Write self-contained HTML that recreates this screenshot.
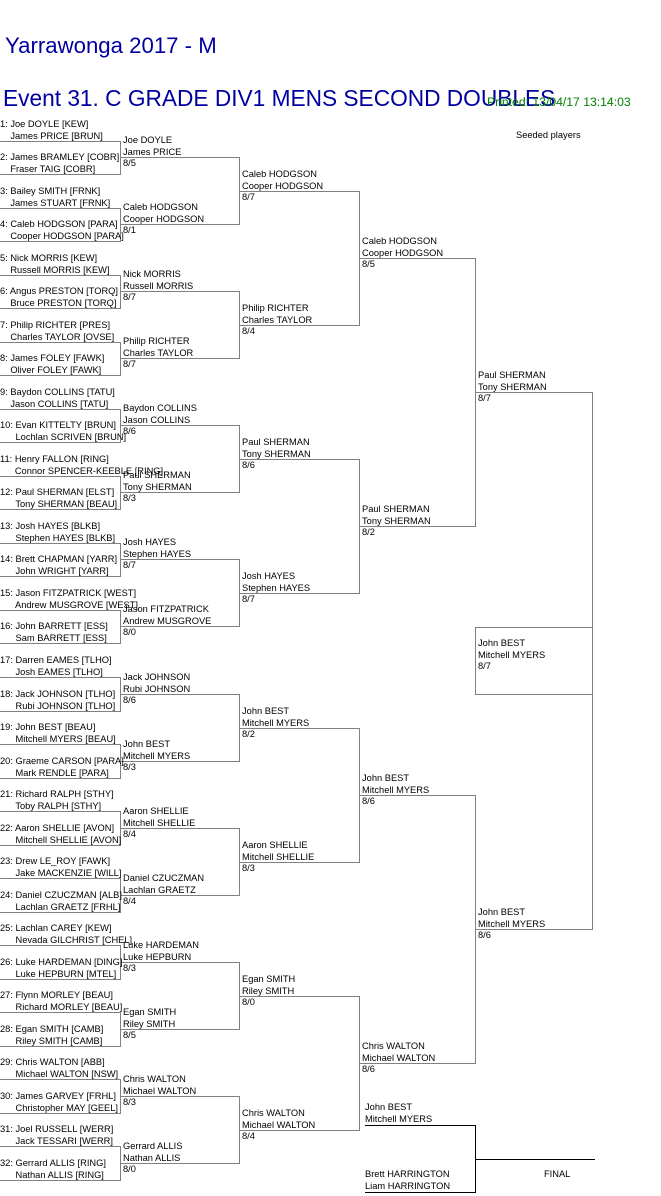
<!DOCTYPE html>
<html>
<head>
<meta charset="utf-8">
<style>
html,body{margin:0;padding:0;background:#fff}
#c{position:relative;width:661px;height:1196px;overflow:hidden;background:#fff;font-family:"Liberation Sans",Arial,sans-serif}
.t{position:absolute;font-size:9.3px;line-height:11.5px;white-space:nowrap;color:#000}
.h{visibility:hidden}
.ti{position:absolute;white-space:nowrap;color:#0000a0;line-height:1}
svg{position:absolute;left:0;top:0}
</style>
</head>
<body>
<div id="c">
<svg width="661" height="1196" viewBox="0 0 661 1196">
<path fill="none" stroke="#808080" stroke-width="1" shape-rendering="crispEdges" d="
M0 141.5H120.5V174.5H0
M0 208.5H120.5V241.5H0
M0 275.5H120.5V308.5H0
M0 342.5H120.5V375.5H0
M0 409.5H120.5V442.5H0
M0 476.5H120.5V509.5H0
M0 543.5H120.5V576.5H0
M0 610.5H120.5V643.5H0
M0 677.5H120.5V711.5H0
M0 744.5H120.5V778.5H0
M0 811.5H120.5V845.5H0
M0 878.5H120.5V912.5H0
M0 945.5H120.5V979.5H0
M0 1012.5H120.5V1046.5H0
M0 1079.5H120.5V1113.5H0
M0 1146.5H120.5V1180.5H0
M120 157.5H239.5V224.5H120
M120 291.5H239.5V358.5H120
M120 425.5H239.5V492.5H120
M120 559.5H239.5V626.5H120
M120 694.5H239.5V761.5H120
M120 828.5H239.5V895.5H120
M120 962.5H239.5V1029.5H120
M120 1096.5H239.5V1163.5H120
M239 191.5H359.5V325.5H239
M239 459.5H359.5V593.5H239
M239 728.5H359.5V862.5H239
M239 996.5H359.5V1130.5H239
M359 258.5H475.5V526.5H359
M359 795.5H475.5V1063.5H359
M475 392.5H592.5V929.5H475
M475.5 627.5H592.5V694.5H475.5Z
"/>
<path fill="none" stroke="#000" stroke-width="1" shape-rendering="crispEdges" d="M365 1125.5H475.5V1192.5H365 M475.5 1159.5H595"/>
</svg>

<div class="ti" style="left:5px;top:35.4px;font-size:22.2px">Yarrawonga 2017 - M</div>
<div class="ti" style="left:3px;top:86.9px;font-size:22.7px">Event 31. C GRADE DIV1 MENS SECOND DOUBLES</div>
<div style="position:absolute;left:487px;top:95.7px;font-size:12.2px;line-height:1;color:#008000;white-space:nowrap">Printed: 13/04/17 13:14:03</div>
<div class="t" style="left:516px;top:130px">Seeded players</div>

<!-- Round 1 -->
<div class="t" style="left:0;top:119px">1: Joe DOYLE [KEW]<br><span class="h">1: </span>James PRICE [BRUN]</div>
<div class="t" style="left:0;top:152px">2: James BRAMLEY [COBR]<br><span class="h">2: </span>Fraser TAIG [COBR]</div>
<div class="t" style="left:0;top:186px">3: Bailey SMITH [FRNK]<br><span class="h">3: </span>James STUART [FRNK]</div>
<div class="t" style="left:0;top:219px">4: Caleb HODGSON [PARA]<br><span class="h">4: </span>Cooper HODGSON [PARA]</div>
<div class="t" style="left:0;top:253px">5: Nick MORRIS [KEW]<br><span class="h">5: </span>Russell MORRIS [KEW]</div>
<div class="t" style="left:0;top:286px">6: Angus PRESTON [TORQ]<br><span class="h">6: </span>Bruce PRESTON [TORQ]</div>
<div class="t" style="left:0;top:320px">7: Philip RICHTER [PRES]<br><span class="h">7: </span>Charles TAYLOR [OVSE]</div>
<div class="t" style="left:0;top:353px">8: James FOLEY [FAWK]<br><span class="h">8: </span>Oliver FOLEY [FAWK]</div>
<div class="t" style="left:0;top:387px">9: Baydon COLLINS [TATU]<br><span class="h">9: </span>Jason COLLINS [TATU]</div>
<div class="t" style="left:0;top:420px">10: Evan KITTELTY [BRUN]<br><span class="h">10: </span>Lochlan SCRIVEN [BRUN]</div>
<div class="t" style="left:0;top:454px">11: Henry FALLON [RING]<br><span class="h">11: </span>Connor SPENCER-KEEBLE [RING]</div>
<div class="t" style="left:0;top:487px">12: Paul SHERMAN [ELST]<br><span class="h">12: </span>Tony SHERMAN [BEAU]</div>
<div class="t" style="left:0;top:521px">13: Josh HAYES [BLKB]<br><span class="h">13: </span>Stephen HAYES [BLKB]</div>
<div class="t" style="left:0;top:554px">14: Brett CHAPMAN [YARR]<br><span class="h">14: </span>John WRIGHT [YARR]</div>
<div class="t" style="left:0;top:588px">15: Jason FITZPATRICK [WEST]<br><span class="h">15: </span>Andrew MUSGROVE [WEST]</div>
<div class="t" style="left:0;top:621px">16: John BARRETT [ESS]<br><span class="h">16: </span>Sam BARRETT [ESS]</div>
<div class="t" style="left:0;top:655px">17: Darren EAMES [TLHO]<br><span class="h">17: </span>Josh EAMES [TLHO]</div>
<div class="t" style="left:0;top:689px">18: Jack JOHNSON [TLHO]<br><span class="h">18: </span>Rubi JOHNSON [TLHO]</div>
<div class="t" style="left:0;top:722px">19: John BEST [BEAU]<br><span class="h">19: </span>Mitchell MYERS [BEAU]</div>
<div class="t" style="left:0;top:756px">20: Graeme CARSON [PARA]<br><span class="h">20: </span>Mark RENDLE [PARA]</div>
<div class="t" style="left:0;top:789px">21: Richard RALPH [STHY]<br><span class="h">21: </span>Toby RALPH [STHY]</div>
<div class="t" style="left:0;top:823px">22: Aaron SHELLIE [AVON]<br><span class="h">22: </span>Mitchell SHELLIE [AVON]</div>
<div class="t" style="left:0;top:856px">23: Drew LE_ROY [FAWK]<br><span class="h">23: </span>Jake MACKENZIE [WILL]</div>
<div class="t" style="left:0;top:890px">24: Daniel CZUCZMAN [ALB]<br><span class="h">24: </span>Lachlan GRAETZ [FRHL]</div>
<div class="t" style="left:0;top:923px">25: Lachlan CAREY [KEW]<br><span class="h">25: </span>Nevada GILCHRIST [CHEL]</div>
<div class="t" style="left:0;top:957px">26: Luke HARDEMAN [DING]<br><span class="h">26: </span>Luke HEPBURN [MTEL]</div>
<div class="t" style="left:0;top:990px">27: Flynn MORLEY [BEAU]<br><span class="h">27: </span>Richard MORLEY [BEAU]</div>
<div class="t" style="left:0;top:1024px">28: Egan SMITH [CAMB]<br><span class="h">28: </span>Riley SMITH [CAMB]</div>
<div class="t" style="left:0;top:1057px">29: Chris WALTON [ABB]<br><span class="h">29: </span>Michael WALTON [NSW]</div>
<div class="t" style="left:0;top:1091px">30: James GARVEY [FRHL]<br><span class="h">30: </span>Christopher MAY [GEEL]</div>
<div class="t" style="left:0;top:1124px">31: Joel RUSSELL [WERR]<br><span class="h">31: </span>Jack TESSARI [WERR]</div>
<div class="t" style="left:0;top:1158px">32: Gerrard ALLIS [RING]<br><span class="h">32: </span>Nathan ALLIS [RING]</div>

<!-- Round 2 -->
<div class="t" style="left:123px;top:135px">Joe DOYLE<br>James PRICE<br>8/5</div>
<div class="t" style="left:123px;top:202px">Caleb HODGSON<br>Cooper HODGSON<br>8/1</div>
<div class="t" style="left:123px;top:269px">Nick MORRIS<br>Russell MORRIS<br>8/7</div>
<div class="t" style="left:123px;top:336px">Philip RICHTER<br>Charles TAYLOR<br>8/7</div>
<div class="t" style="left:123px;top:403px">Baydon COLLINS<br>Jason COLLINS<br>8/6</div>
<div class="t" style="left:123px;top:470px">Paul SHERMAN<br>Tony SHERMAN<br>8/3</div>
<div class="t" style="left:123px;top:537px">Josh HAYES<br>Stephen HAYES<br>8/7</div>
<div class="t" style="left:123px;top:604px">Jason FITZPATRICK<br>Andrew MUSGROVE<br>8/0</div>
<div class="t" style="left:123px;top:672px">Jack JOHNSON<br>Rubi JOHNSON<br>8/6</div>
<div class="t" style="left:123px;top:739px">John BEST<br>Mitchell MYERS<br>8/3</div>
<div class="t" style="left:123px;top:806px">Aaron SHELLIE<br>Mitchell SHELLIE<br>8/4</div>
<div class="t" style="left:123px;top:873px">Daniel CZUCZMAN<br>Lachlan GRAETZ<br>8/4</div>
<div class="t" style="left:123px;top:940px">Luke HARDEMAN<br>Luke HEPBURN<br>8/3</div>
<div class="t" style="left:123px;top:1007px">Egan SMITH<br>Riley SMITH<br>8/5</div>
<div class="t" style="left:123px;top:1074px">Chris WALTON<br>Michael WALTON<br>8/3</div>
<div class="t" style="left:123px;top:1141px">Gerrard ALLIS<br>Nathan ALLIS<br>8/0</div>

<!-- Round 3 -->
<div class="t" style="left:242px;top:169px">Caleb HODGSON<br>Cooper HODGSON<br>8/7</div>
<div class="t" style="left:242px;top:303px">Philip RICHTER<br>Charles TAYLOR<br>8/4</div>
<div class="t" style="left:242px;top:437px">Paul SHERMAN<br>Tony SHERMAN<br>8/6</div>
<div class="t" style="left:242px;top:571px">Josh HAYES<br>Stephen HAYES<br>8/7</div>
<div class="t" style="left:242px;top:706px">John BEST<br>Mitchell MYERS<br>8/2</div>
<div class="t" style="left:242px;top:840px">Aaron SHELLIE<br>Mitchell SHELLIE<br>8/3</div>
<div class="t" style="left:242px;top:974px">Egan SMITH<br>Riley SMITH<br>8/0</div>
<div class="t" style="left:242px;top:1108px">Chris WALTON<br>Michael WALTON<br>8/4</div>

<!-- Round 4 -->
<div class="t" style="left:362px;top:236px">Caleb HODGSON<br>Cooper HODGSON<br>8/5</div>
<div class="t" style="left:362px;top:504px">Paul SHERMAN<br>Tony SHERMAN<br>8/2</div>
<div class="t" style="left:362px;top:773px">John BEST<br>Mitchell MYERS<br>8/6</div>
<div class="t" style="left:362px;top:1041px">Chris WALTON<br>Michael WALTON<br>8/6</div>

<!-- Round 5 -->
<div class="t" style="left:478px;top:370px">Paul SHERMAN<br>Tony SHERMAN<br>8/7</div>
<div class="t" style="left:478px;top:907px">John BEST<br>Mitchell MYERS<br>8/6</div>

<!-- Winner -->
<div class="t" style="left:478px;top:638px">John BEST<br>Mitchell MYERS<br>8/7</div>

<!-- Final -->
<div class="t" style="left:365px;top:1102px">John BEST<br>Mitchell MYERS</div>
<div class="t" style="left:365px;top:1169.3px">Brett HARRINGTON<br>Liam HARRINGTON</div>
<div class="t" style="left:544px;top:1168.7px">FINAL</div>
</div>
</body>
</html>
